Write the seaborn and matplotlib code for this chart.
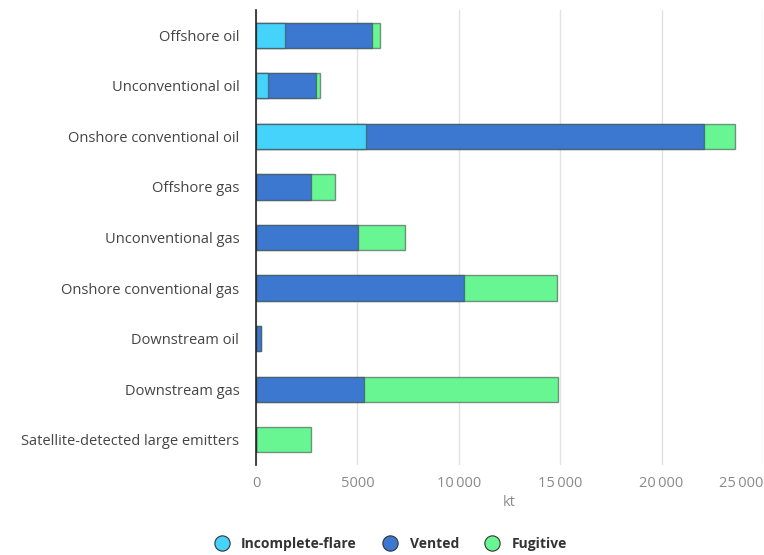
import matplotlib
matplotlib.use("Agg")
import matplotlib.pyplot as plt
import seaborn as sns
import pandas as pd
import numpy as np
from matplotlib.lines import Line2D
from matplotlib.ticker import FuncFormatter

categories = ["Offshore oil", "Unconventional oil", "Onshore conventional oil",
              "Offshore gas", "Unconventional gas", "Onshore conventional gas",
              "Downstream oil", "Downstream gas", "Satellite-detected large emitters"]
incomplete_flare = [1450, 610, 5400, 0, 0, 0, 0, 0, 0]
vented = [4280, 2360, 16700, 2720, 5050, 10280, 230, 5310, 0]
fugitive = [370, 180, 1520, 1180, 2280, 4540, 0, 9570, 2720]
series_names = ["Incomplete-flare", "Vented", "Fugitive"]
colors = ["#45D2FB", "#3C78D0", "#68F692"]
x_ticks = [0, 5000, 10000, 15000, 20000, 25000]

df = pd.DataFrame({"category": categories,
                   "Incomplete-flare": incomplete_flare,
                   "Vented": vented,
                   "Fugitive": fugitive})
df["c1"] = df["Incomplete-flare"]
df["c2"] = df["c1"] + df["Vented"]
df["c3"] = df["c2"] + df["Fugitive"]

sns.set_theme(style="white")
plt.rcParams["font.family"] = ["Open Sans", "DejaVu Sans"]

fig = plt.figure(figsize=(7.64, 5.55), dpi=100)
ax = fig.add_axes([256 / 764, 1 - 465 / 555, 507 / 764, 455 / 555])

for col, color in zip(["c3", "c2", "c1"], colors[::-1]):
    sns.barplot(data=df, y="category", x=col, orient="h", color=color,
                width=0.5, ax=ax, saturation=1, edgecolor=(0.25, 0.3, 0.3, 0.6),
                linewidth=1.0, order=categories)

ax.set_xlim(0, 25000)
ax.set_ylim(8.5, -0.5)
ax.set_xticks(x_ticks)
ax.xaxis.set_major_formatter(FuncFormatter(
    lambda v, p: "0" if v == 0 else ("5000" if v == 5000 else f"{int(v):,}".replace(",", "\u2009"))))
ax.grid(axis="x", color="#e3e3e3", linewidth=1)
ax.set_axisbelow(True)
for s in ["top", "right", "bottom"]:
    ax.spines[s].set_visible(False)
ax.spines["left"].set_color("#222222")
ax.spines["left"].set_linewidth(1.2)
ax.tick_params(axis="y", length=0, pad=12, labelsize=10.5, labelcolor="#444444")
ax.tick_params(axis="x", length=0, pad=8, labelsize=10.5, labelcolor="#8a8a8a")
xlabels = ax.get_xticklabels()
xlabels[-1].set_horizontalalignment("right")
ax.set_ylabel("")
ax.set_xlabel("kt", color="#8a8a8a", fontsize=10.5, labelpad=3)

handles = [Line2D([0], [0], marker="o", linestyle="", markersize=11,
                  markerfacecolor=c, markeredgecolor="#333333", markeredgewidth=0.8)
           for c in colors]
leg = fig.legend(handles, series_names, loc="lower center", ncol=3,
                 bbox_to_anchor=(0.507, -0.015), frameon=False, handletextpad=0.4,
                 columnspacing=1.4, prop={"weight": "bold", "size": 10})
for t in leg.get_texts():
    t.set_color("#333333")

fig.savefig("out.png", dpi=100)
